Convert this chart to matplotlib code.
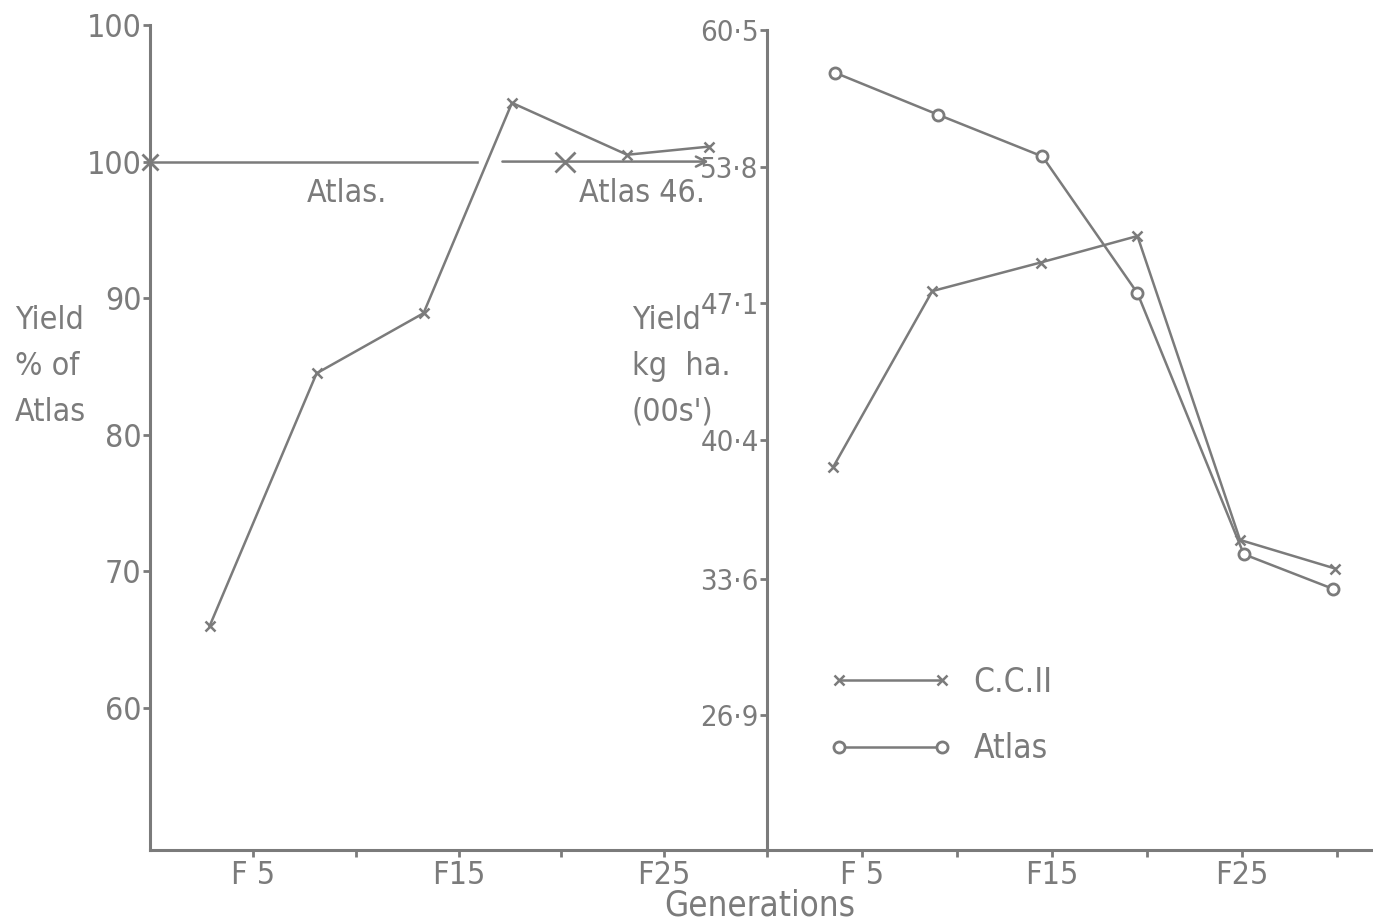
import numpy as np
import matplotlib
matplotlib.use("Agg")
from matplotlib import pyplot as plt

INK = "#7b7b7b"

# left panel: C.C.II yield as % of Atlas
left_gen = [2.9, 8.1, 13.3, 17.6, 23.2, 27.2]
left_ccii = [66.0, 84.5, 88.9, 104.3, 100.5, 101.1]
# Atlas reference line (drawn in two pieces, with arrow at the end)
atlas_ref_a = [0.0, 15.9]
atlas_ref_b = [17.0, 27.3]
atlas_ref_val = 100.0
atlas_marks_gen = [0.0, 20.2]

left_yticks = [110, 100, 90, 80, 70, 60]
left_yticklabels = ["100", "100", "90", "80", "70", "60"]

# right panel: yield kg/ha (00s)
right_gen_ccii = [3.5, 8.7, 14.4, 19.5, 24.9, 29.9]
right_ccii = [39.1, 47.7, 49.1, 50.4, 35.5, 34.1]
right_gen_atlas = [3.6, 9.0, 14.5, 19.5, 25.1, 29.8]
right_atlas = [58.4, 56.35, 54.3, 47.6, 34.8, 33.1]

right_yticks = [60.5, 53.8, 47.1, 40.4, 33.6, 26.9]
right_yticklabels = ["60·5", "53·8", "47·1", "40·4", "33·6", "26·9"]

gen_ticks = [5, 10, 15, 20, 25, 30]
gen_ticklabels = ["F 5", "", "F15", "", "F25", ""]

left_ylabel = ["Yield", "% of", "Atlas"]
right_ylabel = ["Yield", "kg  ha.", "(00s')"]

plt.rcParams["font.family"] = ["DejaVu Sans"]
plt.rcParams["font.stretch"] = "condensed"
FS = 23

W, H = 1373, 922
fig = plt.figure(figsize=(W / 100, H / 100), dpi=100)


def px_axes(x0, x1, y0, y1):
    return fig.add_axes([x0 / W, 1 - y1 / H, (x1 - x0) / W, (y1 - y0) / H])


def style(ax):
    for s in ["top", "right"]:
        ax.spines[s].set_visible(False)
    for s in ["left", "bottom"]:
        ax.spines[s].set_color(INK)
        ax.spines[s].set_linewidth(2.2)
    ax.tick_params(colors=INK, labelcolor=INK, labelsize=FS, width=2, length=5,
                   pad=1)
    ax.tick_params(axis="x", pad=2)
    ax.patch.set_alpha(0)


ax1 = px_axes(150, 767, 25, 850)
ax2 = px_axes(767, 1373, 30, 850)
style(ax1)
style(ax2)

# left
ax1.set_xlim(0, 30)
ax1.set_ylim(49.6, 110)
ax1.plot(left_gen, left_ccii, color=INK, lw=1.8, marker="x", ms=7, mew=1.8)
ax1.plot(atlas_ref_a, [atlas_ref_val] * 2, color=INK, lw=1.8)
ax1.annotate("", xy=(atlas_ref_b[1], atlas_ref_val), xytext=(atlas_ref_b[0], atlas_ref_val),
             arrowprops=dict(arrowstyle="->", color=INK, lw=1.8, mutation_scale=18))
ax1.plot(atlas_marks_gen[:1], [atlas_ref_val], ls="none", marker="x", ms=11, mew=2, color=INK,
         clip_on=False)
ax1.plot(atlas_marks_gen[1:], [atlas_ref_val], ls="none", marker="x", ms=15, mew=2, color=INK)
ax1.text(9.6, 97.7, "Atlas.", color=INK, fontsize=FS, ha="center", va="center")
ax1.text(23.9, 97.65, "Atlas 46.", color=INK, fontsize=FS, ha="center", va="center")
ax1.set_yticks(left_yticks)
ax1.set_yticklabels(left_yticklabels)
ax1.set_xticks(gen_ticks)
ax1.set_xticklabels(gen_ticklabels)

# right
ax2.set_xlim(0, 31.9)
ax2.set_ylim(20.3, 60.5)
ax2.plot(right_gen_ccii, right_ccii, color=INK, lw=1.8, marker="x", ms=7, mew=1.8,
         label="C.C.II")
ax2.plot(right_gen_atlas, right_atlas, color=INK, lw=1.8, marker="o", ms=8, mew=2,
         mfc="white", label="Atlas")
ax2.set_yticks(right_yticks)
ax2.set_yticklabels(right_yticklabels)
ax2.tick_params(axis="y", labelsize=FS - 2)
ax2.set_xticks(gen_ticks)
ax2.set_xticklabels(gen_ticklabels)

leg = ax2.legend(loc="upper left", bbox_to_anchor=(0.052, 0.261), frameon=False,
                 numpoints=2, handlelength=3.7, handletextpad=0.65, labelspacing=1.0,
                 fontsize=FS + 1, labelcolor=INK)

# axis titles, one text per line as in the original
for i, line in enumerate(left_ylabel):
    fig.text(15 / W, 1 - (320 + 46 * i) / H, line, color=INK, fontsize=FS,
             ha="left", va="center")
for i, line in enumerate(right_ylabel):
    fig.text(632 / W, 1 - (320 + 46 * i) / H, line, color=INK, fontsize=FS,
             ha="left", va="center")
fig.text(760 / W, 1 - 905 / H, "Generations", color=INK, fontsize=FS + 2,
         ha="center", va="center")

fig.savefig("out.png", dpi=100)
